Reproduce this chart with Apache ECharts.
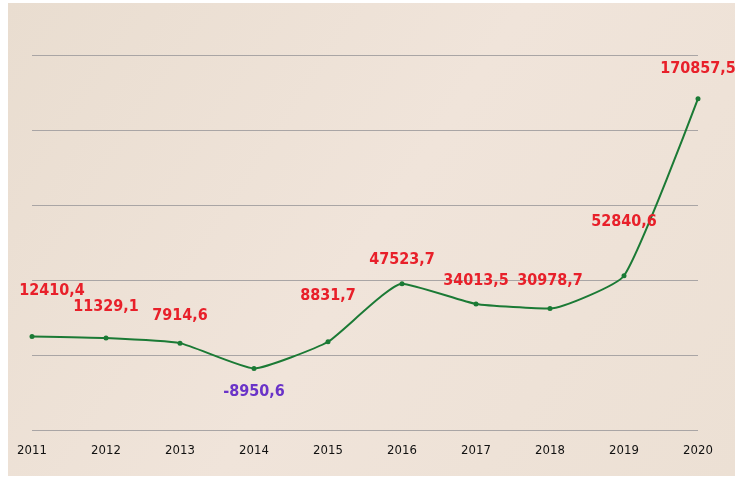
<!DOCTYPE html>
<html>
<head>
<meta charset="utf-8">
<script src="https://cdn.jsdelivr.net/npm/echarts@6/dist/echarts.min.js"></script>
<style>
  html, body { margin: 0; padding: 0; background: #fff; }
  #chart { width: 741px; height: 484px; }
</style>
</head>
<body>
<div id="chart"></div>
<script>
var years = ['2011', '2012', '2013', '2014', '2015', '2016', '2017', '2018', '2019', '2020'];
var values = [12410.4, 11329.1, 7914.6, -8950.6, 8831.7, 47523.7, 34013.5, 30978.7, 52840.6, 170857.5];

// смещения подписей над точками
var labelOffsets = [[20, -30], [0, -16], [0, -12], [0, 8], [0, -30], [0, -8], [0, -8], [0, -12], [0, -38], [0, -14]];

var myChart = echarts.init(document.getElementById('chart'));

var option = {
  backgroundColor: '#fff',
  graphic: [{
    type: 'rect',
    z: -10,
    shape: { x: 8, y: 3, width: 727, height: 473 },
    style: {
      fill: new echarts.graphic.LinearGradient(0, 0, 1, 1, [
        { offset: 0, color: '#e9ddd0' },
        { offset: 0.5, color: '#f0e4da' },
        { offset: 1, color: '#ece0d4' }
      ])
    }
  }],
  grid: { left: 32, right: 43, top: 55, bottom: 54 },
  xAxis: {
    type: 'category',
    data: years,
    boundaryGap: false,
    axisLine: { show: false },
    axisTick: { show: false },
    axisLabel: {
      color: '#111',
      fontSize: 13,
      fontFamily: 'DejaVu Sans Condensed',
      margin: 14
    }
  },
  yAxis: {
    type: 'value',
    min: -50000,
    max: 200000,
    interval: 50000,
    axisLabel: { show: false },
    axisLine: { show: false },
    axisTick: { show: false },
    splitLine: { lineStyle: { color: '#a9a5a5', width: 1 } }
  },
  series: [{
    type: 'line',
    smooth: 0.15,
    data: values.map(function (v, i) {
      return {
        value: v,
        label: {
          offset: labelOffsets[i],
          position: v < 0 ? 'bottom' : 'top',
          color: v < 0 ? '#6a33c8' : '#e8202a'
        }
      };
    }),
    symbol: 'circle',
    symbolSize: 5,
    lineStyle: { color: '#1b7a35', width: 2 },
    itemStyle: { color: '#1b7a35' },
    label: {
      show: true,
      fontSize: 16,
      fontWeight: 'bold',
      fontFamily: 'DejaVu Sans Condensed',
      formatter: function (p) {
        return String(p.value).replace('.', ',');
      }
    }
  }]
};
myChart.setOption(option);
</script>
</body>
</html>
